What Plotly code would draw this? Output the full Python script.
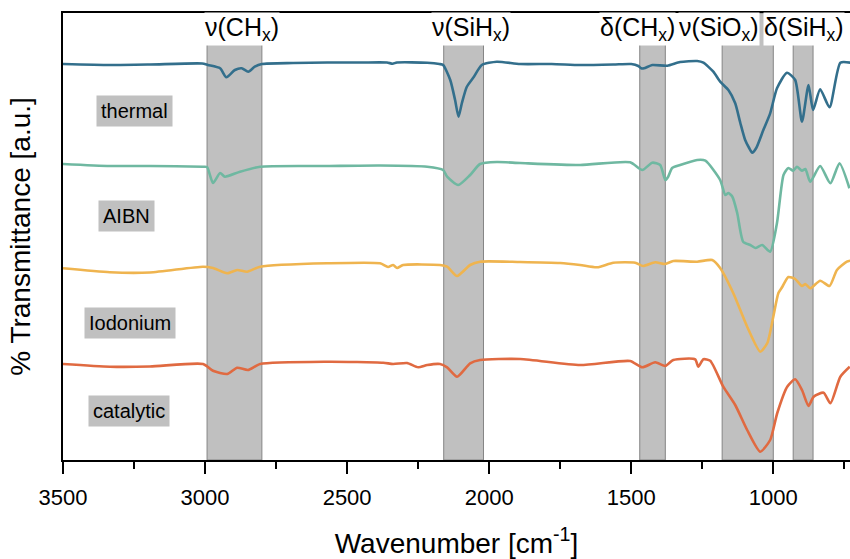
import plotly.graph_objects as go

# ---------------- data (wavenumber in cm^-1, transmittance in a.u., offset stacked) ----------------
thermal_wn = [3500, 3335, 3194, 3010, 2990, 2947, 2925, 2895, 2871, 2848, 2825, 2800, 2690, 2570,
              2450, 2360, 2340, 2325, 2218, 2175, 2162, 2137, 2120, 2108, 2096, 2079, 2055, 2026,
              1973, 1891, 1780, 1680, 1563, 1500, 1475, 1465, 1455, 1426, 1373, 1328, 1268, 1246,
              1211, 1187, 1158, 1134, 1116, 1099, 1085, 1074, 1060, 1035, 1011, 987, 952, 923, 899,
              876, 860, 835, 802, 764, 729]
thermal_t = [396, 395, 395.5, 396.5, 395, 391.7, 382.7, 390, 391.7, 388.3, 393.3, 396, 397, 397.5,
             397.5, 397.5, 396.3, 397.5, 397.3, 396, 395, 380, 360, 343.3, 357, 373, 382.7, 395,
             398.3, 396, 396, 395, 395.5, 396, 394, 391.7, 391.7, 395, 394.3, 398, 399, 397.3,
             388.3, 378.3, 370, 356.7, 337, 320, 312, 307.3, 312, 330, 346.7, 371.7, 387.3, 380, 338.3,
             375, 350, 370.7, 352.7, 397.3, 397.3]

aibn_wn = [3500, 3335, 3194, 3007, 2993, 2972, 2947, 2930, 2877, 2806, 2570, 2384, 2218, 2162,
           2148, 2109, 2067, 2032, 1973, 1891, 1680, 1504, 1461, 1426, 1398, 1380, 1370, 1356,
           1328, 1268, 1239, 1187, 1169, 1158, 1144, 1127, 1106, 1081, 1063, 1039, 1011, 987,
           964, 947, 930, 917, 899, 887, 870, 835, 799, 767, 732]
aibn_t = [296, 294, 294, 293.3, 293, 277, 287, 283.3, 288.3, 293.3, 294, 294.5, 293.3, 290,
          283.3, 275, 285, 296, 298, 297, 295, 297.7, 290, 297.3, 295, 280, 283.3, 292,
          295, 300, 299.3, 280, 265, 267, 263.3, 247, 218.3, 215, 212, 215, 208.3, 237,
          285, 292, 289.3, 293.3, 289.3, 291, 278.3, 294, 276.7, 296.7, 271.7]

iodonium_wn = [3500, 3335, 3194, 3007, 2972, 2922, 2887, 2852, 2806, 2570, 2384, 2356, 2338, 2324,
               2303, 2173, 2148, 2113, 2067, 2032, 1891, 1750, 1680, 1620, 1563, 1486, 1458, 1416,
               1380, 1352, 1268, 1215, 1187, 1141, 1092, 1046, 1021, 1000, 982, 968, 947, 923, 899,
               887, 870, 835, 802, 776, 741, 729]
iodonium_t = [191.7, 187.7, 187.5, 193.3, 192, 186.7, 190, 188.3, 193.3, 196.7, 196.7, 193, 195, 192,
              195, 195, 193.3, 184, 195, 198.3, 198, 197, 195, 192.7, 197.3, 197.3, 194, 197.7,
              196, 199, 198.3, 200, 192, 167, 133.3, 108.3, 117, 143.3, 167, 173.3, 183, 181, 174,
              176, 171.7, 179.3, 174, 190, 198.3, 199.3]

catalytic_wn = [3500, 3335, 3194, 3007, 2972, 2922, 2887, 2849, 2806, 2570, 2373, 2338, 2289, 2250,
                2218, 2173, 2148, 2113, 2067, 2032, 1891, 1680, 1504, 1461, 1416, 1380, 1352, 1275,
                1264, 1246, 1222, 1176, 1134, 1092, 1046, 1011, 986, 951, 923, 899, 876, 858, 823,
                799, 764, 731]
catalytic_t = [96, 93.3, 93.5, 96, 89.3, 86, 92.3, 90, 96, 98.3, 97.3, 96, 97, 92.7,
               95, 96, 92.7, 83.3, 96.7, 100, 101, 95, 99, 92.7, 97.7, 94, 100, 100.7,
               93.3, 100.7, 99.3, 73.3, 55, 30, 8.3, 20, 47, 73.3, 80.7, 70, 54, 63.3, 67.3,
               56.7, 83.3, 93.3]

series_names = ["thermal", "AIBN", "Iodonium", "catalytic"]
series_colors = ["#336f8c", "#6fb8a1", "#efb44f", "#e06a41"]
series_label_x = [3248, 3275, 3264, 3268]
series_label_y = [349, 244, 137, 49]

band_ranges = [(2993, 2800), (2160, 2020), (1470, 1380), (1180, 1000), (930, 860)]
band_labels = ["ν(CH<sub>x</sub>)", "ν(SiH<sub>x</sub>)", "δ(CH<sub>x</sub>)",
               "ν(SiO<sub>x</sub>)", "δ(SiH<sub>x</sub>)"]
band_label_x = [2871, 2063, 1479, 1192, 891]

x_ticks = [3500, 3000, 2500, 2000, 1500, 1000]

# ---------------- figure ----------------
fig = go.Figure()

all_wn = [thermal_wn, aibn_wn, iodonium_wn, catalytic_wn]
all_t = [thermal_t, aibn_t, iodonium_t, catalytic_t]
for name, wn, t, c in zip(series_names, all_wn, all_t, series_colors):
    fig.add_trace(go.Scatter(x=wn, y=t, mode="lines", name=name,
                             line=dict(color=c, width=2.6, shape="spline", smoothing=0.6),
                             showlegend=False))

for (a, b) in band_ranges:
    fig.add_shape(type="rect", xref="x", yref="paper", x0=a, x1=b, y0=0, y1=1,
                  fillcolor="#c0c0c0", line=dict(color="#858585", width=1), layer="below")

for lab, lx in zip(band_labels, band_label_x):
    fig.add_annotation(x=lx, y=431, xref="x", yref="y", text=lab, showarrow=False,
                       font=dict(family="Liberation Sans, Arial", size=25, color="black"),
                       bgcolor="white", borderpad=0)

for name, lx, ly in zip(series_names, series_label_x, series_label_y):
    fig.add_annotation(x=lx, y=ly, xref="x", yref="y", text=name, showarrow=False,
                       font=dict(family="Liberation Sans, Arial", size=20, color="black"),
                       bgcolor="#c0c0c0", borderpad=4)

fig.update_layout(
    width=850, height=559,
    margin=dict(l=63, r=0, t=13, b=99),
    paper_bgcolor="white", plot_bgcolor="white",
    font=dict(family="Liberation Sans, Arial", color="black"),
)
fig.update_xaxes(
    range=[3500, 730], tickvals=x_ticks, ticktext=[str(v) for v in x_ticks],
    ticks="outside", ticklen=12, tickwidth=1.5, tickcolor="black",
    minor=dict(dtick=250, tick0=0, ticks="outside", ticklen=7, tickwidth=1.5, tickcolor="black"),
    showline=True, linecolor="black", linewidth=2, mirror=True,
    showgrid=False, zeroline=False,
    tickfont=dict(size=22), ticklabelstandoff=5,
    title=dict(text="Wavenumber [cm<sup>-1</sup>]", font=dict(size=28), standoff=26),
)
fig.update_yaxes(
    range=[0, 447], showticklabels=False, ticks="",
    showline=True, linecolor="black", linewidth=2,
    showgrid=False, zeroline=False,
    title=dict(text="% Transmittance [a.u.]", font=dict(size=28), standoff=22),
)

fig.write_html("out.html")
